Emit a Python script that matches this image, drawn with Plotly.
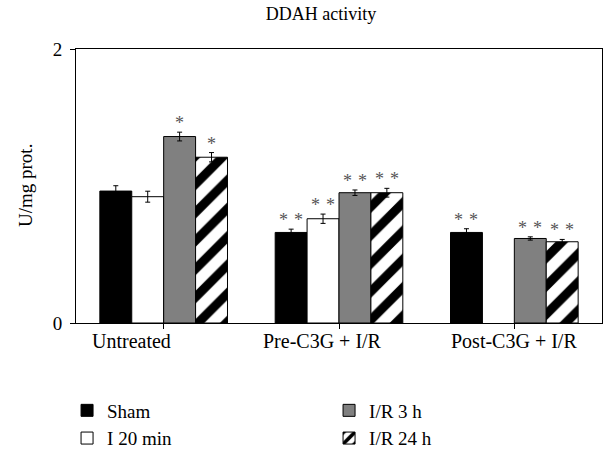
import plotly.graph_objects as go

categories = ["Untreated", "Pre-C3G + I/R", "Post-C3G + I/R"]
series_names = ["Sham", "I 20 min", "I/R 3 h", "I/R 24 h"]
sham = [0.963, 0.661, 0.661]
i20 = [0.922, 0.761, None]
ir3 = [1.361, 0.951, 0.617]
ir24 = [1.21, 0.951, 0.593]
sham_err = [0.039, 0.024, 0.027]
i20_err = [0.04, 0.034, None]
ir3_err = [0.032, 0.02, 0.012]
ir24_err = [0.034, 0.032, 0.017]
stars = [
    ["", "", "*", "*"],
    ["* *", "* *", "* *", "* *"],
    ["* *", "", "* *", "* *"],
]
y_ticks = [0, 2]

FONT = "Liberation Serif"
values = [sham, i20, ir3, ir24]
errs = [sham_err, i20_err, ir3_err, ir24_err]
styles = [
    dict(color="black"),
    dict(color="white"),
    dict(color="#808080"),
    dict(color="white", pattern=dict(shape="/", fgcolor="black", bgcolor="white", fgopacity=1,
                                     size=20, solidity=0.45)),
]
ranks = [1, 3, 2, 4]
bargap = 0.272

fig = go.Figure()
x_idx = list(range(len(categories)))
for j, name in enumerate(series_names):
    fig.add_trace(go.Bar(
        x=x_idx, y=values[j], name=name,
        marker=dict(**styles[j], line=dict(color="black", width=1)),
        error_y=dict(type="data", array=errs[j], color="black", thickness=1, width=2.5),
        legendrank=ranks[j],
    ))

w = (1 - bargap) / len(series_names)
for i in range(len(categories)):
    for j in range(len(series_names)):
        s = stars[i][j]
        if not s or values[j][i] is None:
            continue
        fig.add_annotation(
            x=i + (j - 1.5) * w, y=values[j][i] + errs[j][i], xref="x", yref="y",
            text=s.replace(" ", "\u2004"), showarrow=False, yanchor="bottom", yshift=-3,
            font=dict(family=FONT, size=18, color="#555555"),
        )

label_shift = [-32, -17, 0]
for i, c in enumerate(categories):
    fig.add_annotation(
        x=i, y=0, xref="x", yref="y", text=c, showarrow=False,
        yanchor="top", yshift=-5, xshift=label_shift[i],
        font=dict(family=FONT, size=20, color="black"),
    )

fig.add_annotation(
    x=(25 - 76) / 526, xref="paper", xanchor="center", y=0.5, yref="paper", yanchor="middle",
    text="U/mg prot.", textangle=-90,
    showarrow=False, font=dict(family=FONT, size=19, color="black"),
)

fig.update_layout(
    width=606, height=452,
    margin=dict(l=76, r=4, t=49, b=129, autoexpand=False),
    paper_bgcolor="white", plot_bgcolor="white",
    barmode="group", bargap=bargap, bargroupgap=0,
    font=dict(family=FONT, size=19, color="black"),
    title=dict(text="DDAH activity", x=321 / 606, xanchor="center", xref="container",
               y=1 - 14 / 452, yanchor="middle", yref="container",
               font=dict(family=FONT, size=18, color="black")),
    showlegend=True,
    legend=dict(orientation="h", x=-0.017, xanchor="left", y=-0.25, yanchor="top",
                entrywidth=217, traceorder="normal",
                font=dict(family=FONT, size=19, color="black"), bgcolor="rgba(0,0,0,0)"),
)
fig.update_xaxes(
    range=[-0.5, 2.5], tickmode="array", tickvals=x_idx, ticktext=[""] * 3,
    showticklabels=False, tickson="boundaries", ticks="outside", ticklen=5, tickcolor="black",
    showline=True, linecolor="black", linewidth=1, mirror=True, showgrid=False, zeroline=False,
)
fig.update_yaxes(
    range=[0, 2], tickmode="array", tickvals=y_ticks, ticks="outside", ticklen=5,
    tickcolor="black", ticklabelstandoff=4, tickfont=dict(family=FONT, size=19, color="black"),
    showline=True, linecolor="black", linewidth=1, mirror=True, showgrid=False, zeroline=False,
)

fig.write_html("out.html", config={"displayModeBar": False},
               post_script="document.body.style.margin='0';document.body.style.padding='0';")
